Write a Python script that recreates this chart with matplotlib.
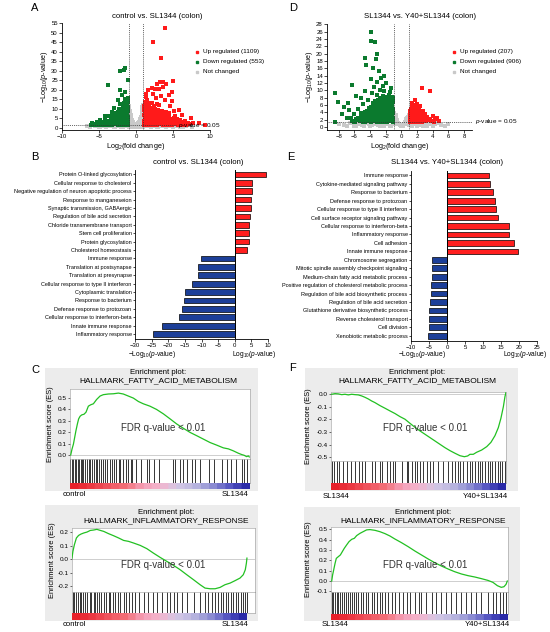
import numpy as np
import matplotlib
matplotlib.use("Agg")
import matplotlib.pyplot as plt
from matplotlib.patches import Rectangle
from matplotlib.lines import Line2D
from matplotlib.colors import LinearSegmentedColormap

plt.rcParams["font.family"] = ["Liberation Sans", "DejaVu Sans"]
plt.rcParams["mathtext.fontset"] = "custom"
plt.rcParams["mathtext.rm"] = "Liberation Sans"
plt.rcParams["mathtext.it"] = "Liberation Sans:italic"

# ---------------- data ----------------
# volcano A: control vs. SL1344, (log2 fold change, -log10 p)
a_up = [(1.1, 1.5), (1.3, 2.4), (1.5, 1.4), (1.7, 2.9), (1.9, 1.8), (2.1, 2.6), (2.3, 1.5), (2.5, 3.3),
        (2.7, 2.0), (2.9, 1.4), (3.1, 2.7), (3.3, 1.7), (3.5, 2.2), (3.7, 1.5), (3.9, 3.0), (4.1, 1.9),
        (4.3, 2.5), (4.5, 1.5), (4.7, 2.1), (4.9, 1.6), (5.1, 2.8), (5.3, 1.8), (5.5, 2.3), (5.7, 1.5),
        (5.9, 1.9), (6.2, 1.6), (6.5, 2.2), (6.8, 1.5), (7.2, 1.8),
        (1.1, 3.6), (1.2, 5.1), (1.4, 4.2), (1.6, 5.8), (1.8, 4.0), (2.0, 5.2), (2.2, 3.9), (2.4, 4.7),
        (2.6, 5.6), (2.8, 3.8), (3.0, 4.4), (3.2, 3.5), (3.4, 4.9), (3.6, 3.7), (3.8, 4.3), (4.0, 3.4),
        (4.2, 4.0), (4.4, 3.3), (4.6, 3.8), (4.8, 2.9), (5.0, 3.5), (5.4, 3.1), (5.8, 2.6), (6.1, 2.9),
        (1.1, 6.8), (1.2, 8.3), (1.3, 10.1), (1.1, 11.6), (1.4, 7.4), (1.5, 9.2), (1.6, 12.4), (1.7, 6.6),
        (1.8, 8.0), (1.9, 10.5), (2.0, 7.1), (2.1, 9.0), (2.2, 6.2), (2.3, 8.2), (2.4, 11.2), (2.5, 6.9),
        (2.7, 7.8), (2.9, 6.3), (3.0, 9.4), (3.2, 5.8), (3.4, 7.0), (3.6, 5.6), (3.9, 6.4), (4.1, 5.3),
        (4.4, 6.0), (4.7, 4.8), (5.1, 5.2), (1.2, 13.5), (1.5, 14.7), (1.3, 16.2), (1.9, 13.1), (2.2, 12.8),
        (2.6, 10.0), (3.1, 11.8), (3.5, 9.0), (4.0, 8.2), (4.5, 7.6), (5.3, 6.4), (5.6, 4.5), (6.0, 4.0),
        (6.6, 3.4), (7.0, 2.7), (7.7, 2.3),
        (1.2, 1.9), (1.4, 3.1), (1.6, 2.0), (1.8, 3.4), (2.0, 1.4), (2.2, 2.9), (2.4, 2.1), (2.6, 1.6),
        (2.8, 2.6), (3.0, 1.8), (3.2, 3.0), (3.4, 2.5), (3.6, 2.9), (3.8, 2.0), (4.0, 1.5), (4.2, 2.8),
        (4.4, 1.9), (4.6, 2.4), (4.8, 1.4), (5.0, 2.0), (5.2, 2.4), (5.6, 2.0), (6.0, 2.3), (6.4, 1.5),
        (1.3, 4.6), (1.5, 5.4), (1.7, 4.3), (1.9, 5.0), (2.1, 4.5), (2.3, 5.9), (2.5, 4.0), (2.7, 4.9),
        (2.9, 5.2), (3.1, 4.1), (3.3, 5.6), (3.5, 3.2), (3.7, 4.6), (4.3, 4.6), (4.5, 4.2), (4.9, 4.0),
        (5.2, 3.8), (1.2, 7.4), (1.4, 9.8), (1.6, 8.2), (1.7, 10.8), (1.9, 7.6), (2.0, 9.6), (2.2, 8.8),
        (2.5, 7.7), (2.8, 8.6), (3.1, 7.0), (3.3, 6.2), (3.7, 6.7), (1.1, 9.1), (1.3, 11.8), (1.4, 13.0),
        (1.6, 19.9), (2.1, 20.7), (2.5, 20.2), (2.7, 15.5), (3.1, 20.2), (3.7, 21.6), (4.1, 23.3),
        (3.6, 24.3), (3.3, 24.0), (2.8, 23.0), (5.0, 24.6), (4.8, 19.0), (4.4, 17.2), (3.9, 14.5),
        (3.4, 16.5), (2.3, 17.8), (5.8, 9.3), (6.2, 6.7), (7.4, 4.9), (8.5, 2.3), (9.3, 1.4), (3.4, 36.6),
        (2.35, 45.0), (3.9, 52.4), (1.4, 18.0), (2.9, 12.7), (4.6, 11.3), (5.2, 8.7), (4.8, 14.2)]
a_down = [(-6.1, 1.5), (-5.8, 1.9), (-5.5, 1.4), (-5.2, 1.7), (-4.9, 2.2), (-4.6, 1.5), (-4.3, 1.9),
          (-4.0, 2.6), (-3.8, 1.6), (-3.5, 2.1), (-3.2, 1.5), (-3.0, 2.9), (-2.8, 1.8), (-2.6, 2.5),
          (-2.4, 1.5), (-2.2, 3.2), (-2.0, 2.0), (-1.8, 1.5), (-1.6, 2.7), (-1.4, 1.7), (-1.2, 2.3),
          (-1.05, 1.5), (-4.5, 3.0), (-4.1, 3.6), (-3.7, 3.2), (-3.4, 4.0), (-3.1, 3.6), (-2.9, 4.7),
          (-2.7, 3.7), (-2.5, 5.1), (-2.3, 4.2), (-2.1, 5.8), (-1.9, 4.0), (-1.7, 5.3), (-1.5, 4.3),
          (-1.3, 5.9), (-1.1, 4.1), (-1.05, 3.2), (-1.2, 6.8), (-1.4, 7.6), (-1.6, 6.6), (-1.8, 7.2),
          (-2.0, 6.9), (-2.2, 7.8), (-2.4, 6.5), (-2.6, 6.3), (-2.8, 6.0), (-3.0, 5.5), (-3.3, 5.4),
          (-1.1, 8.6), (-1.3, 9.4), (-1.5, 8.8), (-1.7, 10.1), (-1.9, 9.0), (-2.1, 8.6), (-2.3, 9.9),
          (-1.1, 10.8), (-1.2, 12.1), (-1.4, 11.2), (-1.6, 12.8), (-1.05, 13.5), (-1.3, 14.3),
          (-1.1, 15.6), (-1.8, 11.6), (-2.5, 8.4), (-2.7, 8.0), (-3.2, 7.2), (-3.6, 6.0), (-5.3, 3.0),
          (-4.8, 3.9), (-4.2, 4.7), (-5.9, 2.6),
          (-1.1, 2.0), (-1.3, 1.4), (-1.5, 2.2), (-1.7, 1.8), (-1.9, 2.6), (-2.1, 1.6), (-2.3, 2.4),
          (-2.5, 1.8), (-2.7, 2.9), (-2.9, 2.2), (-3.1, 2.4), (-3.3, 2.7), (-3.6, 1.7), (-3.9, 2.3),
          (-4.2, 1.6), (-4.4, 2.4), (-4.7, 1.9), (-5.0, 1.6), (-5.4, 2.1), (-1.2, 3.6), (-1.4, 3.1),
          (-1.6, 3.8), (-1.8, 3.3), (-2.0, 4.6), (-2.2, 3.9), (-2.4, 3.5), (-2.6, 4.2), (-2.8, 3.4),
          (-3.2, 4.3), (-3.5, 3.5), (-1.1, 5.4), (-1.3, 6.3), (-1.5, 5.2), (-1.7, 6.0), (-1.9, 5.6),
          (-2.3, 6.0), (-1.2, 7.7), (-1.4, 8.4), (-1.6, 9.5), (-1.1, 9.9), (-1.3, 11.4), (-1.5, 10.4),
          (-1.2, 13.0), (-1.4, 13.7),
          (-1.49, 31.4), (-1.6, 30.4), (-2.16, 29.8), (-1.04, 25.1), (-3.74, 22.5), (-1.44, 15.1),
          (-2.1, 20.0), (-1.9, 17.3), (-2.5, 14.5), (-1.5, 18.7), (-2.1, 12.5), (-3.0, 10.2),
          (-3.2, 8.5), (-4.2, 6.0)]
a_nc = [(-0.9, 11.5), (-0.8, 9.0), (-0.95, 7.5), (-0.7, 6.5), (-0.85, 5.0), (-0.6, 4.2), (-0.75, 3.0),
        (-0.5, 2.6), (-0.9, 2.4), (-0.4, 1.9), (-0.65, 1.6), (-0.3, 1.2), (-0.2, 0.9), (-0.1, 0.6),
        (0.0, 0.3), (0.1, 0.7), (0.2, 1.1), (0.3, 1.5), (0.45, 2.0), (0.6, 2.8), (0.7, 3.6), (0.55, 4.0),
        (0.8, 4.6), (0.9, 5.8), (0.75, 6.9), (0.95, 8.0), (0.85, 9.5), (0.95, 10.8), (0.9, 12.0),
        (-0.95, 9.8), (-0.9, 6.0), (0.95, 3.5), (0.9, 2.2), (-0.95, 3.8),
        (-0.95, 5.5), (-0.9, 8.5), (-0.95, 11.0), (-0.85, 7.0), (-0.8, 4.0), (-0.7, 5.2), (-0.6, 3.3),
        (-0.5, 1.5), (-0.4, 2.8), (-0.3, 2.0), (-0.2, 1.5), (-0.1, 1.1), (0.1, 1.3), (0.2, 1.8),
        (0.3, 2.4), (0.4, 3.0), (0.5, 3.4), (0.6, 4.8), (0.7, 5.6), (0.8, 7.8), (0.9, 9.0), (0.95, 11.4),
        (0.85, 3.0), (0.95, 6.5), (0.75, 2.0), (-0.8, 1.4), (-0.75, 8.0), (0.8, 11.0),
        (-5.5, 0.8), (-5.0, 0.5), (-4.5, 1.0), (-4.0, 0.4), (-3.5, 0.9), (-3.0, 0.6), (-2.5, 1.1),
        (-2.0, 0.3), (-1.5, 0.8), (-1.0, 0.5), (-0.6, 1.0), (-0.3, 0.2), (0.3, 0.3), (0.6, 0.9),
        (1.0, 0.5), (1.5, 1.0), (2.0, 0.4), (2.5, 0.9), (3.0, 0.6), (3.5, 1.1), (4.0, 0.3), (4.5, 0.8),
        (5.0, 0.5), (5.5, 1.0), (6.0, 0.6), (6.8, 0.9), (7.5, 0.4), (-6.2, 0.6), (-1.2, 1.1), (1.2, 1.1),
        (-2.8, 0.2), (2.8, 0.2), (-0.8, 0.2), (0.8, 0.2), (-4.8, 0.2), (-3.8, 1.0), (-1.8, 0.2),
        (1.8, 0.7), (3.8, 0.7), (4.8, 1.0), (-5.2, 1.1), (6.4, 0.3), (-6.6, 1.0)]

# volcano D: SL1344 vs. Y40+SL1344
d_up = [(1.1, 1.5), (1.3, 2.3), (1.5, 1.6), (1.7, 3.0), (1.9, 1.9), (2.1, 2.6), (2.3, 1.5), (2.5, 2.1),
        (2.7, 1.7), (2.9, 2.4), (3.1, 1.6), (3.3, 2.0), (1.1, 3.2), (1.3, 4.1), (1.5, 3.4), (1.7, 4.5),
        (1.9, 3.6), (2.1, 4.0), (2.3, 3.2), (2.5, 3.5), (1.2, 5.0), (1.4, 5.6), (1.6, 5.1), (1.8, 6.0),
        (2.0, 5.2), (2.2, 4.8), (1.1, 2.4), (1.4, 2.9), (1.6, 2.2), (2.0, 2.8), (2.4, 2.6), (2.8, 3.0),
        (1.25, 1.9), (1.8, 1.4), (2.6, 1.4), (3.5, 2.2), (4.0, 2.9), (4.3, 2.3), (4.5, 2.5), (4.8, 1.7),
        (3.8, 1.6), (4.2, 1.5), (3.0, 3.6), (2.7, 4.3), (1.73, 7.4), (2.0, 6.2), (2.58, 10.7),
        (3.65, 9.8), (1.3, 6.6), (2.4, 5.7), (1.05, 4.5),
        (1.2, 1.6), (1.4, 1.8), (1.6, 1.4), (1.7, 2.0), (1.9, 2.4), (2.2, 1.8), (2.4, 1.9), (2.6, 2.2),
        (2.8, 1.6), (3.0, 2.1), (1.2, 2.8), (1.5, 2.5), (1.8, 3.0), (2.1, 3.3), (2.3, 2.8), (1.4, 3.8),
        (1.6, 3.9), (1.8, 4.4), (2.0, 3.6), (2.2, 4.2), (2.4, 4.0), (1.2, 4.6), (1.5, 4.6), (1.7, 5.5),
        (1.9, 5.2), (2.1, 5.0), (3.2, 2.8), (3.6, 1.8)]
d_down = [(-1.1, 1.5), (-1.3, 2.2), (-1.5, 1.6), (-1.7, 2.8), (-1.9, 1.9), (-2.1, 2.5), (-2.3, 1.5),
          (-2.5, 2.1), (-2.7, 1.7), (-2.9, 2.6), (-3.1, 1.5), (-3.3, 2.2), (-3.5, 1.8), (-3.7, 2.7),
          (-3.9, 1.5), (-4.1, 2.1), (-4.3, 1.6), (-4.5, 2.4), (-4.7, 1.8), (-4.9, 1.5), (-5.1, 2.2),
          (-5.3, 1.6), (-5.6, 1.9), (-5.9, 1.5), (-6.3, 1.7), (-1.2, 2.9), (-1.6, 3.1), (-2.0, 3.2),
          (-2.4, 2.9), (-2.8, 3.3), (-3.2, 3.0), (-3.6, 3.3), (-4.0, 2.9), (-4.4, 3.1), (-4.8, 2.8),
          (-5.2, 2.9), (-5.5, 2.5),
          (-1.1, 3.8), (-1.3, 4.5), (-1.5, 3.9), (-1.7, 4.8), (-1.9, 4.0), (-2.1, 4.4), (-2.3, 3.8),
          (-2.5, 4.6), (-2.7, 3.9), (-2.9, 4.3), (-3.1, 3.7), (-3.3, 4.5), (-3.5, 3.9), (-3.8, 4.2),
          (-4.2, 3.8), (-4.6, 3.7), (-5.0, 3.5), (-1.2, 5.3), (-1.4, 6.0), (-1.6, 5.4), (-1.8, 6.2),
          (-2.0, 5.5), (-2.2, 6.1), (-2.4, 5.3), (-2.6, 5.9), (-2.8, 5.2), (-3.0, 5.7), (-3.2, 5.0),
          (-3.4, 5.5), (-3.7, 5.0), (-4.0, 4.8), (-4.4, 4.5), (-1.1, 6.7), (-1.3, 7.5), (-1.5, 6.9),
          (-1.7, 7.8), (-1.9, 7.0), (-2.1, 6.8), (-2.3, 7.4), (-2.5, 6.6), (-2.9, 6.9), (-3.3, 6.3),
          (-3.6, 6.6), (-1.2, 8.3), (-1.6, 8.7), (-2.0, 8.0), (-2.4, 8.5), (-2.8, 7.9), (-3.1, 8.8),
          (-1.1, 2.4), (-1.4, 1.9), (-1.6, 2.4), (-1.8, 1.5), (-2.0, 2.2), (-2.2, 1.8), (-2.4, 2.3),
          (-2.6, 1.5), (-2.8, 2.4), (-3.0, 1.9), (-3.2, 2.6), (-3.4, 1.6), (-3.6, 2.4), (-3.8, 2.0),
          (-4.0, 1.7), (-4.2, 2.6), (-4.4, 2.0), (-4.6, 1.5), (-4.8, 2.2), (-5.0, 1.8), (-5.4, 2.2),
          (-5.8, 2.1), (-6.1, 1.4), (-1.2, 3.4), (-1.4, 4.0), (-1.6, 4.4), (-1.8, 3.6), (-2.0, 4.0),
          (-2.2, 3.4), (-2.4, 4.2), (-2.6, 3.6), (-2.8, 4.7), (-3.0, 4.0), (-3.2, 3.4), (-3.4, 4.1),
          (-3.6, 4.5), (-3.9, 3.6), (-4.3, 4.2), (-4.7, 4.1), (-5.2, 3.8), (-1.1, 5.0), (-1.3, 5.7),
          (-1.5, 5.0), (-1.7, 5.8), (-1.9, 5.1), (-2.1, 5.9), (-2.3, 5.0), (-2.5, 5.6), (-2.7, 5.0),
          (-2.9, 5.8), (-3.1, 5.3), (-3.5, 5.1), (-3.9, 5.5), (-4.2, 5.1), (-1.2, 6.4), (-1.4, 7.2),
          (-1.6, 6.5), (-1.8, 7.3), (-2.0, 6.6), (-2.2, 7.1), (-2.4, 6.3), (-2.7, 6.6), (-3.1, 6.5),
          (-3.4, 7.0), (-1.1, 7.9), (-1.4, 8.3), (-1.8, 8.2), (-2.2, 8.3), (-2.6, 7.4), (-3.0, 7.5),
          (-1.5, 9.5), (-2.2, 9.8), (-2.8, 10.0), (-3.5, 11.0), (-2.0, 12.0), (-3.1, 12.4), (-2.6, 13.5),
          (-2.2, 14.0), (-3.8, 9.2), (-4.3, 7.4), (-4.9, 6.3), (-5.5, 5.0), (-6.0, 3.6), (-6.5, 2.5),
          (-4.6, 9.8), (-3.9, 13.1), (-2.4, 11.3), (-1.3, 10.6), (-5.2, 7.8), (-6.7, 4.6),
          (-3.95, 25.8), (-3.9, 23.6), (-3.4, 23.2), (-4.7, 18.9), (-3.1, 19.8), (-3.3, 18.6),
          (-4.5, 16.9), (-3.6, 16.0), (-2.9, 15.4), (-6.25, 11.4), (-8.5, 9.3), (-8.1, 6.8), (-7.3, 5.6),
          (-7.0, 2.4), (-8.5, 1.3), (-7.6, 3.5), (-6.8, 6.5), (-5.8, 8.5)]
d_nc = [(-0.9, 3.8), (-0.8, 3.0), (-0.95, 2.4), (-0.6, 2.0), (-0.7, 1.5), (-0.4, 1.2), (-0.5, 0.8),
        (-0.2, 0.5), (0.0, 0.2), (0.2, 0.4), (0.4, 0.9), (0.5, 1.3), (0.7, 1.7), (0.6, 2.3), (0.85, 2.8),
        (0.95, 3.4), (-0.95, 1.2), (0.9, 1.1),
        (-0.9, 2.0), (-0.85, 1.6), (-0.75, 2.6), (-0.65, 3.2), (-0.55, 1.6), (-0.3, 0.9), (-0.1, 0.6),
        (0.1, 0.3), (0.3, 0.7), (0.5, 0.9), (0.65, 1.3), (0.75, 2.4), (0.9, 3.0), (0.8, 1.4),
        (-0.95, 3.1), (0.95, 2.0),
        (-8.0, 0.8), (-7.3, 0.5), (-6.6, 1.0), (-6.0, 0.4), (-5.5, 0.9), (-5.0, 0.6), (-4.5, 1.1),
        (-4.0, 0.3), (-3.5, 0.8), (-3.0, 0.5), (-2.5, 1.0), (-2.0, 0.7), (-1.5, 0.4), (-1.0, 0.9),
        (-1.3, 0.2), (1.0, 0.5), (1.5, 0.9), (2.0, 0.3), (2.5, 1.0), (3.0, 0.6), (3.5, 0.8), (4.0, 0.4),
        (4.5, 1.0), (5.0, 0.6), (5.6, 0.3), (-2.8, 0.2), (-5.8, 0.2), (2.8, 0.2), (-4.2, 0.9),
        (-3.2, 1.1), (-2.2, 0.3), (1.8, 1.1), (3.8, 1.1), (-6.9, 0.3), (-4.8, 0.2), (-3.8, 0.6),
        (-1.8, 1.1), (1.3, 0.2), (2.3, 0.6), (3.3, 0.3), (4.3, 0.7), (6.0, 0.8)]

# GO terms (log10 p, signed)
b_terms = ["Protein O-linked glycosylation", "Cellular response to cholesterol",
           "Negative regulation of neuron apoptotic process", "Response to manganeseion",
           "Synaptic transmission, GABAergic", "Regulation of bile acid secretion",
           "Chloride transmembrane transport", "Stem cell proliferation", "Protein glycosylation",
           "Cholesterol homeostasis", "Immune response", "Translation at postsynapse",
           "Translation at presynapse", "Cellular response to type II interferon",
           "Cytoplasmic translation", "Response to bacterium", "Defense response to protozoan",
           "Cellular response to interferon-beta", "Innate immune response", "Inflammatory response"]
b_vals = [9.3, 5.3, 5.2, 5.0, 5.0, 4.7, 4.3, 4.3, 4.3, 3.8,
          -10.3, -11.0, -11.1, -13.0, -14.9, -15.4, -16.0, -16.8, -21.9, -24.6]
e_terms = ["Immune response", "Cytokine-mediated signaling pathway", "Response to bacterium",
           "Defense response to protozoan", "Cellular response to type II interferon",
           "Cell surface receptor signaling pathway", "Cellular response to interferon-beta",
           "Inflammatory response", "Cell adhesion", "Innate immune response", "Chromosome segregation",
           "Mitotic spindle assembly checkpoint signaling", "Medium-chain fatty acid metabolic process",
           "Positive regulation of cholesterol metabolic process",
           "Regulation of bile acid biosynthetic process", "Regulation of bile acid secretion",
           "Glutathione derivative biosynthetic process", "Reverse cholesterol transport",
           "Cell division", "Xenobiotic metabolic process"]
e_vals = [11.7, 11.9, 12.7, 13.3, 13.6, 14.3, 17.2, 17.2, 18.5, 19.7,
          -4.2, -4.3, -4.3, -4.4, -4.4, -4.6, -4.9, -5.1, -5.1, -5.2]

# GSEA running enrichment scores (rank fraction, ES) and hit positions
c1_rank = [0.004, 0.011, 0.019, 0.026, 0.033, 0.041, 0.048, 0.056, 0.065, 0.078, 0.089, 0.102, 0.115,
           0.13, 0.148, 0.167, 0.185, 0.213, 0.241, 0.269, 0.296, 0.324, 0.352, 0.38, 0.407, 0.444,
           0.481, 0.519, 0.556, 0.593, 0.63, 0.667, 0.704, 0.741, 0.778, 0.815, 0.852, 0.88, 0.907,
           0.935, 0.954, 0.967, 0.981, 0.991, 0.996]
c1_es = [0.0, 0.05, 0.095, 0.154, 0.213, 0.272, 0.317, 0.34, 0.352, 0.358, 0.376, 0.429, 0.441, 0.45,
         0.488, 0.518, 0.53, 0.536, 0.538, 0.544, 0.536, 0.518, 0.5, 0.47, 0.45, 0.429, 0.4, 0.361,
         0.317, 0.272, 0.234, 0.198, 0.169, 0.139, 0.109, 0.086, 0.062, 0.053, 0.036, 0.015, 0.003,
         -0.003, -0.015, -0.009, -0.018]
c1_hits = [0.002, 0.009, 0.019, 0.026, 0.034, 0.045, 0.052, 0.062, 0.067, 0.075, 0.086, 0.093, 0.104,
           0.112, 0.123, 0.132, 0.142, 0.151, 0.160, 0.170, 0.183, 0.192, 0.205, 0.220, 0.231, 0.243,
           0.257, 0.271, 0.280, 0.295, 0.310, 0.323, 0.338, 0.347, 0.369, 0.397, 0.425, 0.440, 0.466,
           0.496, 0.575, 0.584, 0.612, 0.627, 0.649, 0.677, 0.696, 0.724, 0.771, 0.799, 0.845, 0.873,
           0.892, 0.920, 0.957, 0.966, 0.985]

c2_rank = [0.0, 0.005, 0.013, 0.024, 0.036, 0.049, 0.064, 0.082, 0.1, 0.118, 0.136, 0.155, 0.173, 0.2,
           0.227, 0.255, 0.282, 0.309, 0.336, 0.373, 0.409, 0.445, 0.482, 0.518, 0.555, 0.591, 0.627,
           0.664, 0.7, 0.727, 0.755, 0.782, 0.809, 0.836, 0.864, 0.891, 0.918, 0.936, 0.947, 0.953, 0.956]
c2_es = [0.007, 0.057, 0.106, 0.156, 0.175, 0.185, 0.193, 0.2, 0.212, 0.215, 0.22, 0.212, 0.205, 0.188,
         0.173, 0.156, 0.138, 0.131, 0.119, 0.101, 0.077, 0.044, 0.012, -0.017, -0.047, -0.079, -0.116,
         -0.153, -0.19, -0.215, -0.22, -0.22, -0.21, -0.19, -0.178, -0.16, -0.141, -0.116, -0.079,
         -0.03, 0.007]
c2_hits = [0.005, 0.013, 0.024, 0.031, 0.042, 0.051, 0.060, 0.073, 0.082, 0.096, 0.104, 0.118, 0.127,
           0.136, 0.149, 0.160, 0.173, 0.187, 0.200, 0.209, 0.224, 0.236, 0.249, 0.264, 0.282, 0.296,
           0.309, 0.327, 0.345, 0.364, 0.391, 0.418, 0.445, 0.464, 0.491, 0.518, 0.536, 0.555, 0.573,
           0.600, 0.627, 0.664, 0.700, 0.727, 0.745, 0.764, 0.782, 0.800, 0.813, 0.827, 0.842, 0.855,
           0.867, 0.882, 0.896, 0.909, 0.922, 0.936, 0.947, 0.955]

f1_rank = [0.004, 0.023, 0.042, 0.061, 0.08, 0.099, 0.118, 0.137, 0.156, 0.175, 0.194, 0.213, 0.232,
           0.251, 0.28, 0.309, 0.337, 0.366, 0.394, 0.423, 0.451, 0.48, 0.509, 0.537, 0.566, 0.594,
           0.623, 0.651, 0.68, 0.709, 0.737, 0.762, 0.781, 0.794, 0.813, 0.832, 0.861, 0.89, 0.914,
           0.937, 0.956, 0.971, 0.985, 0.994, 1.0]
f1_es = [0.0, 0.005, 0.003, -0.003, 0.0, -0.005, 0.0, -0.003, -0.005, -0.013, -0.024, -0.037, -0.053,
         -0.066, -0.09, -0.111, -0.132, -0.153, -0.177, -0.198, -0.23, -0.262, -0.291, -0.317, -0.344,
         -0.37, -0.397, -0.423, -0.447, -0.468, -0.487, -0.495, -0.489, -0.476, -0.476, -0.46, -0.442,
         -0.415, -0.381, -0.328, -0.265, -0.19, -0.098, -0.019, 0.016]
f1_hits = [0.004, 0.019, 0.032, 0.046, 0.070, 0.090, 0.114, 0.137, 0.160, 0.179, 0.194, 0.232, 0.251,
           0.280, 0.293, 0.318, 0.337, 0.356, 0.366, 0.404, 0.432, 0.442, 0.461, 0.480, 0.490, 0.509,
           0.528, 0.547, 0.566, 0.585, 0.613, 0.642, 0.670, 0.690, 0.709, 0.724, 0.737, 0.756, 0.775,
           0.794, 0.808, 0.823, 0.838, 0.851, 0.865, 0.880, 0.895, 0.909, 0.922, 0.937, 0.952, 0.966,
           0.979, 0.994]

f2_rank = [0.004, 0.009, 0.015, 0.023, 0.03, 0.041, 0.053, 0.064, 0.075, 0.088, 0.102, 0.117, 0.132,
           0.145, 0.164, 0.182, 0.201, 0.22, 0.248, 0.276, 0.305, 0.333, 0.361, 0.398, 0.436, 0.474,
           0.511, 0.549, 0.586, 0.624, 0.662, 0.699, 0.737, 0.774, 0.812, 0.85, 0.887, 0.915, 0.94,
           0.962, 0.977, 0.989, 0.996]
f2_es = [0.0, 0.058, 0.106, 0.171, 0.219, 0.235, 0.252, 0.284, 0.316, 0.348, 0.381, 0.403, 0.413,
         0.439, 0.461, 0.477, 0.494, 0.497, 0.49, 0.477, 0.458, 0.435, 0.406, 0.371, 0.332, 0.29, 0.252,
         0.213, 0.177, 0.145, 0.116, 0.09, 0.068, 0.052, 0.039, 0.023, 0.006, -0.013, -0.045, -0.061,
         -0.055, -0.032, 0.0]
f2_hits = [0.004, 0.013, 0.023, 0.034, 0.041, 0.053, 0.060, 0.071, 0.083, 0.094, 0.105, 0.117, 0.128,
           0.139, 0.154, 0.169, 0.182, 0.195, 0.211, 0.229, 0.244, 0.258, 0.276, 0.289, 0.305, 0.323,
           0.342, 0.361, 0.383, 0.408, 0.427, 0.445, 0.474, 0.496, 0.511, 0.539, 0.568, 0.596, 0.624,
           0.652, 0.680, 0.709, 0.737, 0.765, 0.793, 0.821, 0.850, 0.887, 0.915, 0.934, 0.953, 0.971,
           0.990]

# ---------------- layout helpers ----------------
W, H = 550, 632
fig = plt.figure(figsize=(5.5, 6.32), dpi=100)

RED, GREEN, GREY = "#ff1a1a", "#0b7a2e", "#c9c9c9"
BAR_RED, BAR_BLUE = "#ff1f1f", "#1c3f99"


def px_axes(l, t, r, b, **kw):
    return fig.add_axes([l / W, 1 - b / H, (r - l) / W, (b - t) / H], **kw)


def ftext(x, y, s, **kw):
    fig.text(x / W, 1 - y / H, s, **kw)


def style_axes(ax):
    for side in ("top", "right"):
        ax.spines[side].set_visible(False)
    for side in ("left", "bottom"):
        ax.spines[side].set_linewidth(0.6)
    ax.tick_params(labelsize=4.3, length=2, width=0.5, pad=1)


def volcano(ax, up, down, nc, xlim, ylim, xticks, yticks, hline_end):
    for pts, col in ((nc, GREY), (down, GREEN), (up, RED)):
        pts = np.array(pts)
        ax.scatter(pts[:, 0], pts[:, 1], s=5.5, marker="s", c=col, linewidths=0, zorder=2)
    for xv in (-1, 1):
        ax.axvline(xv, color="#333333", lw=0.6, ls=(0, (1, 1.3)), zorder=3)
    ax.plot([xlim[0], hline_end], [-np.log10(0.05)] * 2, color="#333333", lw=0.6,
            ls=(0, (1, 1.3)), zorder=3)
    ax.set_xlim(*xlim)
    ax.set_ylim(*ylim)
    ax.set_xticks(xticks)
    ax.set_yticks(yticks)
    style_axes(ax)
    ax.set_xlabel("Log$_2$(fold change)", fontsize=5.2, labelpad=1)
    ax.set_ylabel("\u2212Log$_{10}$($\\it{p}$-value)", fontsize=5.2, labelpad=1)


def volcano_legend(x, y, labels):
    cols = [RED, GREEN, GREY]
    for i, (c, lab) in enumerate(zip(cols, labels)):
        yy = y + i * 10
        fig.add_artist(Line2D([x / W], [1 - yy / H], marker="s", ms=1.8, color=c, lw=0,
                              transform=fig.transFigure))
        ftext(x + 6, yy, lab, fontsize=4.6, va="center", ha="left")


def go_bars(ax, terms, vals, xlim, xticks):
    idx = np.arange(len(terms))
    cols = [BAR_RED if v > 0 else BAR_BLUE for v in vals]
    ax.barh(idx, vals, height=0.68, color=cols, edgecolor="black", linewidth=0.5, zorder=2)
    ax.axvline(0, color="black", lw=0.7, zorder=3)
    ax.set_yticks(idx)
    ax.set_yticklabels(terms)
    ax.set_ylim(19.58, -0.52)
    ax.set_xlim(*xlim)
    ax.set_xticks(xticks)
    style_axes(ax)
    ax.tick_params(axis="y", labelsize=4.0, length=1.5, pad=1)


rank_cmap = LinearSegmentedColormap.from_list(
    "rank", ["#e8202a", "#ec3a44", "#f05660", "#f37078", "#f5a0b8", "#f4b4cc", "#d4c8e6",
             "#bcb8e0", "#9090d4", "#5a5ac4", "#2a2aa8"], N=22)


def gsea(box, es_box, ylim, yticks, rank, es, hits, gene_set, left_lab, right_lab,
         title_x, title_y, fdr_xy, ylab_x, lab_y):
    l, t, r, b = box
    fig.add_artist(Rectangle((l / W, 1 - b / H), (r - l) / W, (b - t) / H, transform=fig.transFigure,
                             facecolor="#ececec", edgecolor="none", zorder=-5))
    el, et, er, eb, hb, cb = es_box
    xend = max(rank)
    ax = px_axes(el, et, er, eb)
    ax.plot(rank, es, color="#22c022", lw=0.9, zorder=3)
    ax.axhline(0, color="#bbbbbb", lw=0.5, zorder=1)
    ax.set_xlim(0, 1.0)
    ax.set_ylim(*ylim)
    ax.set_yticks(yticks)
    ax.set_yticklabels([f"{v:.1f}" for v in yticks])
    ax.set_xticks([])
    ax.tick_params(labelsize=4.6, length=1.5, width=0.4, pad=1)
    for s in ax.spines.values():
        s.set_linewidth(0.4)
        s.set_color("#999999")
    ax.text(fdr_xy[0], fdr_xy[1], "FDR q-value < 0.01", fontsize=7, color="#333333",
            transform=ax.transAxes, ha="center", va="center")

    hax = px_axes(el, eb, er, hb)
    hax.vlines(hits, 0, 1, color="black", lw=0.55)
    hax.set_xlim(0, 1.0)
    hax.set_ylim(0, 1)
    hax.set_xticks([])
    hax.set_yticks([])
    for s in hax.spines.values():
        s.set_linewidth(0.4)
        s.set_color("#999999")

    cax = px_axes(el, hb, er, cb)
    cax.imshow(np.linspace(0, 1, 300)[None, :], aspect="auto", cmap=rank_cmap,
               extent=[0, xend, 0, 1])
    cax.set_xlim(0, 1.0)
    cax.set_ylim(0, 1)
    cax.axis("off")

    ftext(title_x, title_y, "Enrichment plot:", fontsize=5.6, ha="center", va="center")
    ftext(title_x, title_y + 9, gene_set, fontsize=6.0, ha="center", va="center")
    ftext(ylab_x, (et + eb) / 2, "Enrichment score (ES)", fontsize=5.4, rotation=90,
          ha="center", va="center")
    ftext(l + 18, lab_y, left_lab, fontsize=5.6, ha="left", va="center")
    ftext(r - 10, lab_y, right_lab, fontsize=5.6, ha="right", va="center")


# ---------------- panel A ----------------
axA = px_axes(62, 23, 210, 130)
volcano(axA, a_up, a_down, a_nc, (-10, 10), (-1.2, 55.2), [-10, -5, 0, 5, 10],
        np.arange(0, 56, 5), 5.5)
ftext(157, 16, "control vs. SL1344 (colon)", fontsize=5.6, ha="center", va="center")
volcano_legend(197, 52, ["Up regulated (1109)", "Down regulated (553)", "Not changed"])
ftext(178, 126, "$\\it{p}$-value = 0.05", fontsize=4.6, ha="left", va="center")

# ---------------- panel D ----------------
axD = px_axes(327, 24, 472, 130)
volcano(axD, d_up, d_down, d_nc, (-9.5, 9.0), (-0.8, 28.1), np.arange(-8, 9, 2),
        np.arange(0, 29, 2), 9.0)
ftext(420, 16, "SL1344 vs. Y40+SL1344 (colon)", fontsize=5.6, ha="center", va="center")
volcano_legend(454, 52, ["Up regulated (207)", "Down regulated (906)", "Not changed"])
ftext(475, 122, "$\\it{p}$-value = 0.05", fontsize=4.6, ha="left", va="center")

# ---------------- panel B ----------------
axB = px_axes(135, 170, 268, 339)
go_bars(axB, b_terms, b_vals, (-30, 10), np.arange(-30, 11, 5))
ftext(198, 162, "control vs. SL1344 (colon)", fontsize=5.6, ha="center", va="center")
ftext(152, 354, "\u2212Log$_{10}$($\\it{p}$-value)", fontsize=4.8, ha="center", va="center")
ftext(254, 354, "Log$_{10}$($\\it{p}$-value)", fontsize=4.8, ha="center", va="center")

# ---------------- panel E ----------------
axE = px_axes(411, 171, 537, 340.7)
go_bars(axE, e_terms, e_vals, (-10, 25), np.arange(-10, 26, 5))
ftext(447, 162, "SL1344 vs. Y40+SL1344 (colon)", fontsize=5.6, ha="center", va="center")
ftext(422, 354, "\u2212Log$_{10}$($\\it{p}$-value)", fontsize=4.8, ha="center", va="center")
ftext(525, 354, "Log$_{10}$($\\it{p}$-value)", fontsize=4.8, ha="center", va="center")

# ---------------- panels C and F ----------------
gsea((45, 368, 258, 491), (70, 389, 250, 459, 483, 489), (-0.036, 0.58),
     [0.0, 0.1, 0.2, 0.3, 0.4, 0.5], c1_rank, c1_es, c1_hits,
     "HALLMARK_FATTY_ACID_METABOLISM", "control", "SL1344", 158, 372, (0.52, 0.44), 50, 494)
gsea((45, 505, 258, 621), (72, 528, 255, 592, 613, 620), (-0.244, 0.23),
     [-0.2, -0.1, 0.0, 0.1, 0.2], c2_rank, c2_es, c2_hits,
     "HALLMARK_INFLAMMATORY_RESPONSE", "control", "SL1344", 166, 512, (0.5, 0.42), 52, 625)
gsea((305, 368, 518, 491), (331, 392, 506, 461, 483, 490), (-0.529, 0.018),
     [-0.5, -0.4, -0.3, -0.2, -0.1, 0.0], f1_rank, f1_es, f1_hits,
     "HALLMARK_FATTY_ACID_METABOLISM", "SL1344", "Y40+SL1344", 417, 372, (0.54, 0.48), 308, 496)
gsea((304, 507, 520, 621), (331, 527, 508, 592, 614, 620), (-0.106, 0.522),
     [-0.1, 0.0, 0.1, 0.2, 0.3, 0.4, 0.5], f2_rank, f2_es, f2_hits,
     "HALLMARK_INFLAMMATORY_RESPONSE", "SL1344", "Y40+SL1344", 423, 512, (0.53, 0.42), 308, 625)

# ---------------- panel letters ----------------
for lab, x, y in (("A", 35, 8), ("B", 35, 157), ("C", 35, 370),
                  ("D", 293, 8), ("E", 291, 157), ("F", 292, 368)):
    ftext(x, y, lab, fontsize=8, ha="center", va="center")

fig.savefig("out.png", dpi=100)
